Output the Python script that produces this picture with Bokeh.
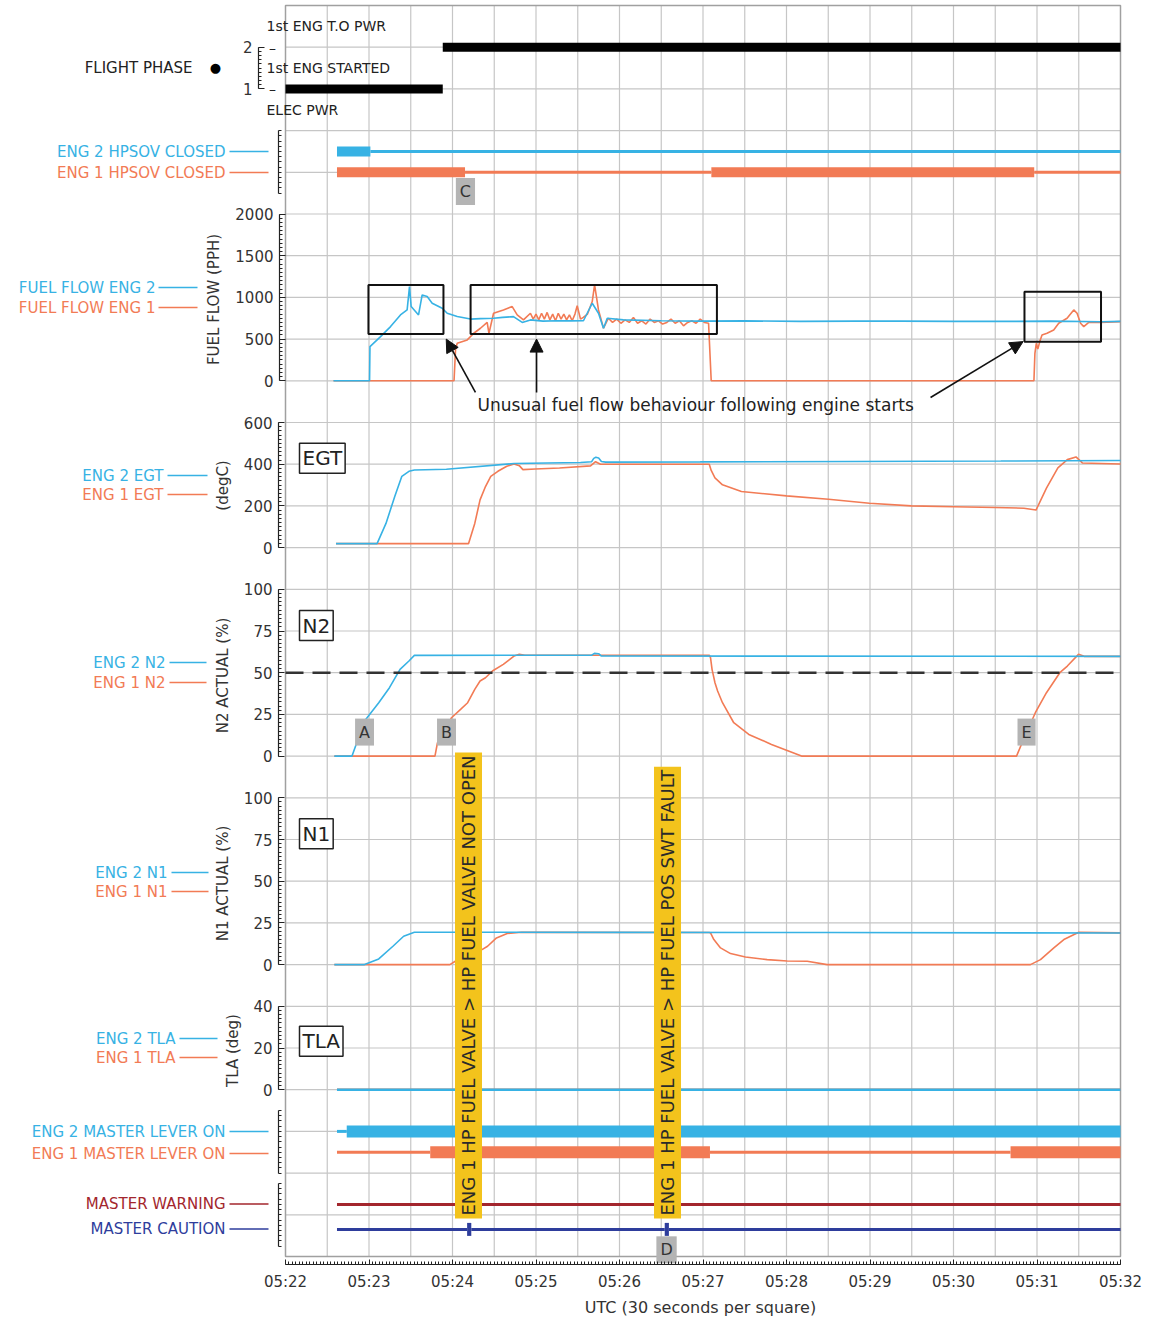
import math
from bokeh.plotting import figure
from bokeh.models import Range1d, LinearAxis, FixedTicker, Label, Arrow, NormalHead
from bokeh.embed import file_html
from bokeh.resources import INLINE
from bokeh.core.properties import value


def ts(s):
    h, m, sec = s.split(":")
    return int(h) * 3600 + int(m) * 60 + float(sec)


# ---------------- data ----------------
tick_labels = ["05:22", "05:23", "05:24", "05:25", "05:26", "05:27",
               "05:28", "05:29", "05:30", "05:31", "05:32"]

phase_time = ["05:22:00.0", "05:23:53.0", "05:32:00.0"]
phase_state = [1, 2]

hpsov2_time = ["05:22:37.0", "05:23:01.0", "05:32:00.0"]
hpsov2_closed = [1, 0]
hpsov1_time = ["05:22:37.0", "05:24:09.0", "05:27:06.0", "05:30:58.0", "05:32:00.0"]
hpsov1_closed = [1, 0, 1, 0]

ff2_time = [
    "05:22:34.5", "05:23:00.4", "05:23:00.7", "05:23:08.3", "05:23:15.5",
    "05:23:22.6", "05:23:27.4", "05:23:29.1", "05:23:30.3", "05:23:35.6",
    "05:23:38.2", "05:23:41.8", "05:23:45.4", "05:23:49.0", "05:23:52.6",
    "05:23:56.2", "05:24:03.4", "05:24:12.9", "05:24:20.0", "05:24:29.5",
    "05:24:36.0", "05:24:43.8", "05:24:50.1", "05:24:56.0", "05:25:05.0",
    "05:25:15.2", "05:25:25.0", "05:25:34.1", "05:25:40.4", "05:25:44.9",
    "05:25:48.5", "05:25:51.2", "05:26:02.9", "05:26:30.0", "05:26:58.0",
    "05:27:30.0", "05:28:10.0", "05:28:50.0", "05:29:22.0", "05:30:00.0",
    "05:30:34.0", "05:31:10.0", "05:31:46.0", "05:32:00.0"]
ff2_pph = [
    0, 0, 410, 530, 650,
    790, 850, 1130, 890, 790,
    1030, 1010, 930, 900, 870,
    810, 770, 740, 745, 750,
    760, 770, 700, 730, 715,
    720, 718, 720, 930, 810,
    630, 750, 730, 720, 715,
    718, 712, 716, 715, 712,
    712, 715, 708, 712]

ff1_time = [
    "05:22:34.5", "05:24:01.1", "05:24:02.2", "05:24:03.4", "05:24:10.6",
    "05:24:15.3", "05:24:20.1", "05:24:24.9", "05:24:26.2", "05:24:29.5",
    "05:24:36.6", "05:24:42.9", "05:24:46.5", "05:24:51.0", "05:24:56.0",
    "05:24:58.0", "05:25:00.0", "05:25:02.0", "05:25:04.0", "05:25:06.0",
    "05:25:08.0", "05:25:10.0", "05:25:12.0", "05:25:14.0", "05:25:16.0",
    "05:25:18.0", "05:25:20.0", "05:25:22.0", "05:25:24.0", "05:25:26.0",
    "05:25:28.0", "05:25:29.6", "05:25:32.0", "05:25:34.0", "05:25:37.0",
    "05:25:40.4", "05:25:42.1", "05:25:44.9", "05:25:48.5", "05:25:52.0",
    "05:25:55.0", "05:25:58.0", "05:26:01.0", "05:26:04.0", "05:26:07.0",
    "05:26:10.0", "05:26:13.0", "05:26:16.0", "05:26:19.0", "05:26:22.0",
    "05:26:25.0", "05:26:28.0", "05:26:31.0", "05:26:34.0", "05:26:37.0",
    "05:26:40.0", "05:26:43.0", "05:26:46.0", "05:26:49.0", "05:26:52.0",
    "05:26:55.0", "05:26:58.0", "05:27:01.0", "05:27:04.0", "05:27:05.9",
    "05:30:57.8", "05:30:58.5", "05:30:59.5", "05:31:00.6", "05:31:02.0",
    "05:31:03.6", "05:31:07.2", "05:31:12.0", "05:31:15.6", "05:31:21.6",
    "05:31:26.4", "05:31:28.8", "05:31:31.3", "05:31:33.6", "05:31:37.2",
    "05:31:45.6", "05:32:00.0"]
ff1_pph = [
    0, 0, 380, 450, 490,
    570, 630, 700, 570, 810,
    850, 890, 790, 730, 810,
    740, 800, 730, 810, 740,
    820, 730, 800, 720, 810,
    740, 800, 730, 790, 720,
    800, 900, 740, 760, 800,
    950, 1150, 850, 630, 750,
    700, 740, 690, 730, 700,
    760, 690, 720, 680, 740,
    700, 720, 680, 700, 740,
    690, 720, 660, 700, 720,
    690, 740, 700, 690, 0,
    0, 330, 450, 380, 470,
    550, 570, 610, 690, 750,
    850, 810, 690, 650, 700,
    700, 710]

egt2_time = [
    "05:22:36.3", "05:23:05.8", "05:23:12.2", "05:23:18.5", "05:23:23.6",
    "05:23:28.7", "05:23:32.6", "05:23:55.6", "05:24:44.2", "05:25:32.0",
    "05:25:40.0", "05:25:41.5", "05:25:43.0", "05:25:45.0", "05:25:47.0",
    "05:25:50.0", "05:26:58.0", "05:28:46.0", "05:30:34.0", "05:32:00.0"]
egt2_degc = [
    19, 19, 116, 245, 342,
    366, 372, 376, 403, 408,
    412, 428, 433, 430, 413,
    410, 411, 413, 415, 418]

egt1_time = [
    "05:22:36.3", "05:24:11.5", "05:24:16.0", "05:24:19.8", "05:24:23.7",
    "05:24:27.5", "05:24:32.6", "05:24:39.0", "05:24:44.2", "05:24:48.0",
    "05:24:50.6", "05:24:59.5", "05:25:16.9", "05:25:39.2", "05:25:42.8",
    "05:25:46.4", "05:26:58.2", "05:27:04.5", "05:27:05.9", "05:27:08.6",
    "05:27:14.0", "05:27:27.6", "05:28:00.0", "05:28:30.2", "05:28:59.6",
    "05:29:29.8", "05:30:00.0", "05:30:29.8", "05:30:50.6", "05:30:59.3",
    "05:31:06.8", "05:31:15.0", "05:31:21.8", "05:31:28.0", "05:31:32.6",
    "05:32:00.0"]
egt1_degc = [
    19, 19, 116, 229, 293,
    342, 366, 390, 401, 393,
    374, 377, 382, 392, 412,
    400, 400, 400, 370, 334,
    301, 269, 248, 232, 213,
    200, 196, 192, 189, 180,
    285, 382, 422, 435, 406,
    401]

n2_2_time = [
    "05:22:35.1", "05:22:47.8", "05:22:56.8", "05:23:07.0", "05:23:14.7",
    "05:23:22.3", "05:23:28.7", "05:23:32.6", "05:25:40.0", "05:25:42.0",
    "05:25:45.0", "05:25:47.0", "05:32:00.0"]
n2_2_pct = [0, 0, 21, 32, 41, 52, 57, 60.4, 60.5, 61.6, 61.4, 60.0, 59.8]

n2_1_time = [
    "05:22:35.1", "05:23:47.4", "05:23:49.2", "05:23:54.3", "05:23:59.3",
    "05:24:05.8", "05:24:10.9", "05:24:16.0", "05:24:19.8", "05:24:23.7",
    "05:24:28.7", "05:24:36.5", "05:24:44.2", "05:24:48.0", "05:24:52.0",
    "05:27:04.5", "05:27:05.4", "05:27:06.5", "05:27:08.6", "05:27:10.5",
    "05:27:14.0", "05:27:22.1", "05:27:32.9", "05:27:49.2", "05:28:10.8",
    "05:30:45.3", "05:30:49.3", "05:30:58.8", "05:31:06.8", "05:31:16.4",
    "05:31:21.8", "05:31:29.8", "05:31:33.9", "05:32:00.0"]
n2_1_pct = [
    0, 0, 8, 16, 23,
    28, 32, 40, 45, 47,
    51, 55, 60, 61, 60.5,
    60.5, 59, 52, 44, 39,
    32, 20, 13, 7, 0,
    0, 8, 26, 38, 50,
    54, 61, 59.8, 59.8]

n1_2_time = ["05:22:35.1", "05:22:56.8", "05:23:07.0", "05:23:17.2", "05:23:24.9",
             "05:23:32.6", "05:26:00.0", "05:28:30.0", "05:32:00.0"]
n1_2_pct = [0, 0, 3.4, 11, 17, 19.4, 19.3, 19.2, 18.9]

n1_1_time = [
    "05:22:35.1", "05:23:58.1", "05:24:02.0", "05:24:21.2", "05:24:25.2",
    "05:24:31.6", "05:24:39.3", "05:24:49.6", "05:27:04.5", "05:27:05.4",
    "05:27:07.8", "05:27:12.6", "05:27:19.8", "05:27:30.5", "05:27:46.1",
    "05:28:00.5", "05:28:14.9", "05:28:29.2", "05:30:55.3", "05:31:02.5",
    "05:31:12.1", "05:31:19.3", "05:31:30.0", "05:32:00.0"]
n1_1_pct = [
    0, 0, 2, 9, 11,
    16, 18.6, 19.4, 19.2, 19,
    15, 10, 6.6, 4.6, 3,
    2.2, 2, 0, 0, 3,
    10, 15, 19.4, 19]

tla_time = ["05:22:37.0", "05:32:00.0"]
tla2_deg = [0, 0]
tla1_deg = [0, 0]

lever2_time = ["05:22:37.0", "05:22:44.0", "05:32:00.0"]
lever2_on = [0, 1]
lever1_time = ["05:22:37.0", "05:23:44.0", "05:27:05.0", "05:30:41.0", "05:32:00.0"]
lever1_on = [0, 1, 0, 1]
warning_time = ["05:22:37.0", "05:32:00.0"]
warning_on = [0]
caution_time = ["05:22:37.0", "05:24:10.5", "05:24:13.5", "05:26:32.5", "05:26:35.5", "05:32:00.0"]
caution_on = [0, 1, 0, 1, 0]

event_time = ["05:24:11.5", "05:26:34.5"]
event_text = ["ENG 1 HP FUEL VALVE > HP FUEL VALVE NOT OPEN",
              "ENG 1 HP FUEL VALVE > HP FUEL POS SWT FAULT"]

n2_marker_text = ["A", "B", "E"]
n2_marker_time = ["05:22:56.8", "05:23:55.7", "05:30:52.5"]
n2_marker_pct = [14.4, 14.4, 14.4]

ffbox_left = ["05:22:59.6", "05:24:13.0", "05:30:51.0"]
ffbox_right = ["05:23:53.5", "05:27:10.0", "05:31:46.0"]
ffbox_low = [560, 560, 468]
ffbox_high = [1150, 1150, 1067]
ffarrow_tail_time = ["05:24:16.5", "05:25:00.4", "05:29:43.5"]
ffarrow_tail_pph = [-140, -140, -200]
ffarrow_tip_time = ["05:23:55.5", "05:25:00.4", "05:30:50.0"]
ffarrow_tip_pph = [500, 500, 470]
ff_note = "Unusual fuel flow behaviour following engine starts"

for a, b in [(ff2_time, ff2_pph), (ff1_time, ff1_pph), (egt2_time, egt2_degc),
             (egt1_time, egt1_degc), (n2_2_time, n2_2_pct), (n2_1_time, n2_1_pct),
             (n1_2_time, n1_2_pct), (n1_1_time, n1_1_pct)]:
    assert len(a) == len(b), (len(a), len(b))

# ---------------- style / layout ----------------
FONT = "DejaVu Sans"
BLUE = "#37b2e4"
ORANGE = "#f27b55"
WARN = "#a3262d"
CAUT = "#2e3d9c"
YELLOW = "#f3c31c"
MARK = "#b4b4b4"
TXT = "#333333"
AXC = "#222222"
GRID = "#c6c6c6"

T0 = ts("05:22:00.0")
T1 = ts("05:32:00.0")
SEC_PER_PX = 600.0 / 835.0
SQ_PX = 41.7
W, H = 1150, 1322


def xpx(px):
    return T0 + (px - 285) * SEC_PER_PX


def ypx(py):
    return 30 - (py - 5) / SQ_PX


Y0, Y1 = ypx(H), ypx(0)
p = figure(width=W, height=H,
           x_range=Range1d(xpx(0), xpx(W)), y_range=Range1d(Y0, Y1),
           x_axis_location=None, y_axis_location=None,
           toolbar_location=None, output_backend="svg", min_border=0)
p.grid.visible = False
p.outline_line_color = None
p.background_fill_color = "white"
p.border_fill_color = "white"

# panel ranges: (virtual position of value 0, value units per grid square)
panels = {"phase": (27, 1), "ff": (21, 500), "egt": (17, 200),
          "n2": (12, 25), "n1": (7, 25), "tla": (4, 20)}
p.extra_y_ranges = {k: Range1d((Y0 - b) * u, (Y1 - b) * u) for k, (b, u) in panels.items()}

# grid (30 s x one square) and frame
gx = [T0 + 30 * k for k in range(1, 20)]
p.segment(x0=gx, x1=gx, y0=[0] * len(gx), y1=[30] * len(gx), line_color=GRID, line_width=1.2)
gy = list(range(1, 30))
p.segment(x0=[T0] * len(gy), x1=[T1] * len(gy), y0=gy, y1=gy, line_color=GRID, line_width=1.2)
p.quad(left=[T0], right=[T1], bottom=[0], top=[30], fill_color=None,
       line_color="#a0a0a0", line_width=1.5)


def frange(a, b, step):
    n = int(round((b - a) / step))
    return [a + i * step for i in range(n + 1)]


def add_yaxis(rng, px, ticks, minor, bounds):
    ax = LinearAxis(y_range_name=rng, fixed_location=xpx(px), bounds=bounds,
                    ticker=FixedTicker(ticks=ticks, minor_ticks=minor))
    ax.axis_line_color = AXC
    ax.axis_line_width = 1.2
    ax.major_tick_line_color = AXC
    ax.minor_tick_line_color = AXC
    ax.major_tick_in = 6
    ax.major_tick_out = 0
    ax.minor_tick_in = 3
    ax.minor_tick_out = 0
    ax.major_label_standoff = 6
    ax.major_label_text_font = FONT
    ax.major_label_text_font_size = "15px"
    ax.major_label_text_color = TXT
    p.add_layout(ax, "left")


add_yaxis("phase", 258, [1, 2], frange(1, 2, 0.1), (1, 2))
add_yaxis("default", 278, [], frange(25.5, 27, 0.125), (25.5, 27))
add_yaxis("ff", 279, [0, 500, 1000, 1500, 2000], frange(0, 2000, 50), (0, 2000))
add_yaxis("egt", 278, [0, 200, 400, 600], frange(0, 600, 20), (0, 600))
add_yaxis("n2", 278, [0, 25, 50, 75, 100], frange(0, 100, 2.5), (0, 100))
add_yaxis("n1", 278, [0, 25, 50, 75, 100], frange(0, 100, 2.5), (0, 100))
add_yaxis("tla", 278, [0, 20, 40], frange(0, 40, 2), (0, 40))
add_yaxis("default", 278, [], frange(2.0, 3.5, 0.125), (2.0, 3.5))
add_yaxis("default", 278, [], frange(0.25, 1.75, 0.125), (0.25, 1.75))

major_x = [T0 + 60 * k for k in range(11)]
xax = LinearAxis(fixed_location=ypx(1264), bounds=(T0, T1),
                 ticker=FixedTicker(ticks=major_x, minor_ticks=frange(T0, T1, 2.5)),
                 major_label_overrides={t: lab for t, lab in zip(major_x, tick_labels)},
                 axis_label="UTC  (30 seconds per square)")
xax.axis_line_color = AXC
xax.axis_line_width = 1.2
xax.major_tick_line_color = AXC
xax.minor_tick_line_color = AXC
xax.major_tick_in = 5
xax.major_tick_out = 0
xax.minor_tick_in = 3
xax.minor_tick_out = 0
xax.major_label_standoff = 8
xax.major_label_text_font = FONT
xax.major_label_text_font_size = "15px"
xax.major_label_text_color = TXT
xax.axis_label_text_font = FONT
xax.axis_label_text_font_size = "16px"
xax.axis_label_text_font_style = "normal"
xax.axis_label_text_color = TXT
xax.axis_label_standoff = 4
p.add_layout(xax, "below")


# ---------------- state rows ----------------
def state_row(times, states, y, color, thick, thin=3, rng="default", cap="butt"):
    x0 = [ts(t) for t in times[:-1]]
    x1 = [ts(t) for t in times[1:]]
    yy = [y] * len(x0)
    widths = [thick if s else thin for s in states]
    p.segment(x0=x0, y0=yy, x1=x1, y1=yy, line_color=color,
              line_width=widths, line_cap=cap, y_range_name=rng)


# flight phase
p.segment(x0=[ts(t) for t in phase_time[:-1]], x1=[ts(t) for t in phase_time[1:]],
          y0=phase_state, y1=phase_state, line_color="black", line_width=9,
          line_cap="butt", y_range_name="phase")

ROW = {"hpsov2": 26.5, "hpsov1": 26.0, "lever2": 3.0, "lever1": 2.5,
       "warning": 1.25, "caution": 0.65}
state_row(hpsov2_time, hpsov2_closed, ROW["hpsov2"], BLUE, 10)
state_row(hpsov1_time, hpsov1_closed, ROW["hpsov1"], ORANGE, 10)
state_row(lever2_time, lever2_on, ROW["lever2"], BLUE, 12)
state_row(lever1_time, lever1_on, ROW["lever1"], ORANGE, 12)
state_row(warning_time, warning_on, ROW["warning"], WARN, 12)
state_row(caution_time, caution_on, ROW["caution"], CAUT, 13)


# ---------------- analogue series ----------------
def series(times, vals, color, rng, width=1.6):
    p.line([ts(t) for t in times], vals, line_color=color, line_width=width,
           y_range_name=rng)


series(ff1_time, ff1_pph, ORANGE, "ff")
series(ff2_time, ff2_pph, BLUE, "ff")
series(egt1_time, egt1_degc, ORANGE, "egt")
series(egt2_time, egt2_degc, BLUE, "egt")
series(n2_1_time, n2_1_pct, ORANGE, "n2")
series(n2_2_time, n2_2_pct, BLUE, "n2")
series(n1_1_time, n1_1_pct, ORANGE, "n1")
series(n1_2_time, n1_2_pct, BLUE, "n1")
series(tla_time, tla1_deg, ORANGE, "tla", 2.4)
series(tla_time, tla2_deg, BLUE, "tla", 2.4)

p.segment(x0=[T0], x1=[T1], y0=[50], y1=[50], y_range_name="n2",
          line_color="#333333", line_width=2.4, line_dash="18 9")

# fuel flow annotation boxes and arrows
p.quad(left=[ts(t) for t in ffbox_left], right=[ts(t) for t in ffbox_right],
       bottom=ffbox_low, top=ffbox_high, fill_color=None, line_color="#111111",
       line_width=2, y_range_name="ff")
for tt, tv, ht, hv in zip(ffarrow_tail_time, ffarrow_tail_pph, ffarrow_tip_time, ffarrow_tip_pph):
    p.add_layout(Arrow(x_start=ts(tt), y_start=tv, x_end=ts(ht), y_end=hv,
                       y_range_name="ff", line_color="#111111", line_width=1.6,
                       end=NormalHead(size=13, fill_color="#111111", line_color="#111111")))
p.add_layout(Label(x=xpx(477), y=-288, y_range_name="ff", text=ff_note,
                   text_font=FONT, text_font_size="17px", text_color="#222222",
                   text_align="left", text_baseline="middle"))

# yellow event boxes
p.text(x=[ts(t) for t in event_time], y=[ypx(1218)] * len(event_time), text=event_text,
       angle=math.pi / 2, text_align="left", text_baseline="middle",
       text_font=value(FONT), text_font_size="18px", text_color="#2a2a2a",
       background_fill_color=YELLOW, padding=3)

# grey markers
p.text(x=[ts(t) for t in n2_marker_time], y=n2_marker_pct, text=n2_marker_text,
       y_range_name="n2", text_align="center", text_baseline="middle",
       text_font=value(FONT), text_font_size="16px", text_color=TXT,
       background_fill_color=MARK, padding=4)
p.text(x=[ts("05:24:09.3"), ts("05:26:33.8")], y=[25.54, 0.16], text=["C", "D"],
       text_align="center", text_baseline="middle",
       text_font=value(FONT), text_font_size="16px", text_color=TXT,
       background_fill_color=MARK, padding=4)

# boxed panel titles
p.text(x=[xpx(299)] * 4, y=[19.14, 15.13, 10.14, 5.16], text=["EGT", "N2", "N1", "TLA"],
       text_align="left", text_baseline="middle", text_font=value(FONT),
       text_font_size="20px", text_color="#222222", background_fill_color="white",
       border_line_color="#222222", border_line_width=1.5, padding=3)

# ---------------- left-hand labels ----------------
legend_rows = [
    ("ENG 2 HPSOV CLOSED", BLUE, 151, 225, 229, 268),
    ("ENG 1 HPSOV CLOSED", ORANGE, 172, 225, 229, 268),
    ("FUEL FLOW ENG 2", BLUE, 287, 155, 158, 197),
    ("FUEL FLOW ENG 1", ORANGE, 307, 155, 158, 197),
    ("ENG 2 EGT", BLUE, 475, 163, 167, 207),
    ("ENG 1 EGT", ORANGE, 494, 163, 167, 207),
    ("ENG 2 N2", BLUE, 662, 165, 169, 206),
    ("ENG 1 N2", ORANGE, 682, 165, 169, 206),
    ("ENG 2 N1", BLUE, 872, 167, 171, 208),
    ("ENG 1 N1", ORANGE, 891, 167, 171, 208),
    ("ENG 2 TLA", BLUE, 1038, 175, 179, 217),
    ("ENG 1 TLA", ORANGE, 1057, 175, 179, 217),
    ("ENG 2 MASTER LEVER ON", BLUE, 1131, 225, 229, 268),
    ("ENG 1 MASTER LEVER ON", ORANGE, 1153, 225, 229, 268),
    ("MASTER WARNING", WARN, 1203.5, 225, 229, 268),
    ("MASTER CAUTION", CAUT, 1228.5, 225, 229, 268),
]
for text, color, py, tend, l0, l1 in legend_rows:
    y = ypx(py)
    p.add_layout(Label(x=xpx(tend), y=y, text=text, text_color=color, text_font=FONT,
                       text_font_size="15px", text_align="right", text_baseline="middle"))
    p.segment(x0=[xpx(l0)], x1=[xpx(l1)], y0=[y], y1=[y], line_color=color, line_width=1.5)

axis_titles = [("FUEL FLOW (PPH)", 213, 299), ("(degC)", 222, 485),
               ("N2 ACTUAL (%)", 222, 675), ("N1 ACTUAL (%)", 222, 883),
               ("TLA (deg)", 232, 1050)]
for text, px, py in axis_titles:
    p.add_layout(Label(x=xpx(px), y=ypx(py), text=text, angle=math.pi / 2,
                       text_font=FONT, text_font_size="15px", text_color=TXT,
                       text_align="center", text_baseline="middle"))

p.add_layout(Label(x=xpx(192), y=ypx(67), text="FLIGHT PHASE", text_font=FONT,
                   text_font_size="15px", text_color="#222222", text_align="right",
                   text_baseline="middle"))
p.add_layout(Label(x=xpx(215), y=ypx(67), text="●", text_font=FONT,
                   text_font_size="13px", text_color="black", text_align="center",
                   text_baseline="middle"))
for text, py in [("1st ENG T.O PWR", 25), ("1st ENG STARTED", 67), ("ELEC PWR", 109)]:
    p.add_layout(Label(x=xpx(266), y=ypx(py), text=text, text_font=FONT,
                       text_font_size="14px", text_color="#222222", text_align="left",
                       text_baseline="middle"))
for py in (47, 88):
    p.add_layout(Label(x=xpx(272), y=ypx(py), text="–", text_font=FONT,
                       text_font_size="14px", text_color="#222222", text_align="center",
                       text_baseline="middle"))

open("out.html", "w").write(file_html(p, INLINE))
